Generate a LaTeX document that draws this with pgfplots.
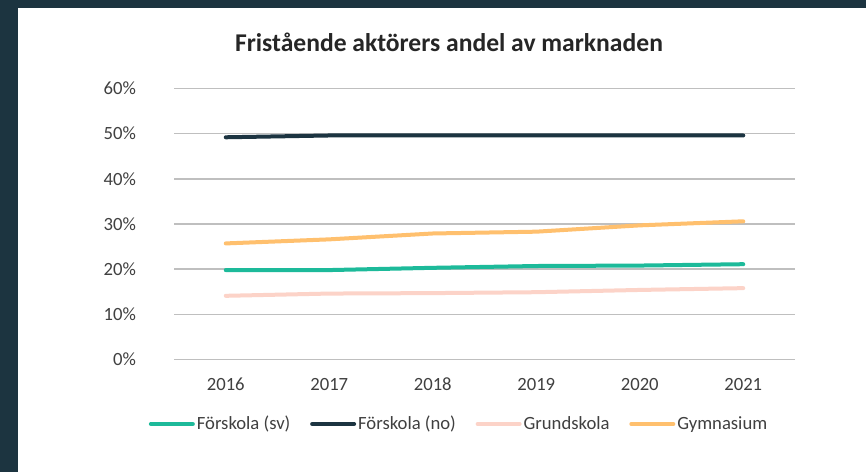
\documentclass[border=0pt]{standalone}
\usepackage{fontspec}
\setmainfont{Carlito}
\usepackage{pgfplots}
\pgfplotsset{compat=1.18}
\definecolor{bgdark}{HTML}{1C3440}
\definecolor{csv}{HTML}{1DBA9A}
\definecolor{cno}{HTML}{1C3441}
\definecolor{cgrund}{HTML}{FCD3C8}
\definecolor{cgym}{HTML}{FFC06E}
\definecolor{gridc}{HTML}{BFBFBF}
\definecolor{txt}{HTML}{404040}
\definecolor{titlec}{HTML}{262626}
\begin{document}
\begin{tikzpicture}[x=0.75pt,y=0.75pt]
\fill[white] (0,0) rectangle (866,472);
\fill[bgdark] (0,0) rectangle (18,472);
\fill[bgdark] (0,464) rectangle (866,472);
\node[font=\bfseries\fontsize{19.2}{22}\selectfont, text=titlec, anchor=base, inner sep=0pt] at (449,420.3) {Fristående aktörers andel av marknaden};
\begin{axis}[
  at={(130.5pt,84.375pt)}, anchor=south west,
  scale only axis, width=465.75pt, height=203.25pt,
  xmin=-0.5, xmax=5.5, ymin=0, ymax=60,
  xtick={0,1,2,3,4,5}, xticklabels={2016,2017,2018,2019,2020,2021},
  ytick={0,10,20,30,40,50,60},
  yticklabel={\pgfmathprintnumber{\tick}\%},
  /pgf/number format/assume math mode=true,
  axis line style={draw=none}, tick style={draw=none},
  ymajorgrids, grid style={gridc, line width=1.1pt},
  ticklabel style={font=\fontsize{14}{16}\selectfont, text=txt},
  yticklabel style={xshift=-25pt},
  xticklabel style={yshift=-10.4pt},
  clip=false,
  legend columns=4,
  legend style={at={(axis description cs:0.459,-0.238)}, anchor=center, draw=none, fill=none,
    font=\fontsize{14}{16}\selectfont, text=txt,
    nodes={inner sep=1.5pt},
    /tikz/every even column/.append style={column sep=13.3pt}},
  legend image code/.code={\draw[#1, line width=3pt] (0pt,0pt) -- (31.5pt,0pt);},
  every axis plot/.append style={line width=3pt, line cap=round, line join=round},
]
\addplot[csv] coordinates {(0,19.8) (1,19.8) (2,20.3) (3,20.7) (4,20.8) (5,21.1)};
\addlegendentry{Förskola (sv)}
\addplot[cno] coordinates {(0,49.2) (1,49.6) (2,49.6) (3,49.6) (4,49.6) (5,49.6)};
\addlegendentry{Förskola (no)}
\addplot[cgrund] coordinates {(0,14.1) (1,14.6) (2,14.7) (3,14.9) (4,15.4) (5,15.8)};
\addlegendentry{Grundskola}
\addplot[cgym] coordinates {(0,25.7) (1,26.6) (2,27.9) (3,28.3) (4,29.7) (5,30.6)};
\addlegendentry{Gymnasium}
\end{axis}
\end{tikzpicture}
\end{document}
